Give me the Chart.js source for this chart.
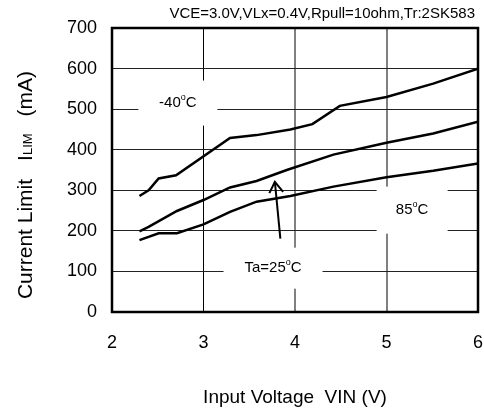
<!DOCTYPE html>
<html>
<head>
<meta charset="utf-8">
<script src="https://cdn.jsdelivr.net/npm/chart.js@4/dist/chart.umd.min.js"></script>
<style>
  html, body { margin: 0; padding: 0; background: #fff; }
  #wrap { width: 484px; height: 409px; }
</style>
</head>
<body>
<div id="wrap"><canvas id="chart" width="484" height="409"></canvas></div>
<script>
// current limit vs input voltage, three temperatures
var vinM40  = [2.30, 2.40, 2.51, 2.70, 3.29, 3.58, 3.95, 4.19, 4.49, 5.00, 5.51, 6.00];
var ilimM40 = [286, 300, 329, 337, 429, 436, 450, 463, 508, 530, 563, 600];
var vin25   = [2.30, 2.40, 2.71, 3.00, 3.29, 3.58, 3.91, 4.42, 5.00, 5.51, 6.00];
var ilim25  = [199, 210, 249, 276, 307, 323, 350, 388, 417, 440, 469];
var vin85   = [2.30, 2.51, 2.71, 3.00, 3.29, 3.58, 3.95, 4.42, 5.00, 5.51, 6.00];
var ilim85  = [177, 194, 194, 216, 247, 272, 286, 309, 332, 348, 366];

// pointer from the "Ta=25" note up to the middle curve
var arrowShaftV = [3.84, 3.78];
var arrowShaftI = [181, 321];
var arrowHeadV  = [3.72, 3.78, 3.87];
var arrowHeadI  = [293, 321, 296];

var xTicks = [2, 3, 4, 5, 6];
var yTicks = [0, 100, 200, 300, 400, 500, 600, 700];

var condText = 'VCE=3.0V,VLx=0.4V,Rpull=10ohm,Tr:2SK583';
var xTitle = 'Input Voltage  VIN (V)';

// temperature notes: text before the degree sign, anchor in data units
var noteText = ['-40', 'Ta=25', '85'];
var noteV    = [2.72, 3.76, 5.28];
var noteI    = [515, 108, 251];
var noteBox  = [[79, 45], [99, 41], [71, 47]];

var FONT = '"Liberation Sans", Arial, Helvetica, sans-serif';

function pts(xs, ys) {
  return xs.map(function (x, i) { return { x: x, y: ys[i] }; });
}

function drawDeg(ctx, pre, cx, cy) {
  var big = '15px ' + FONT, small = '9px ' + FONT;
  ctx.font = big;
  var w1 = ctx.measureText(pre).width;
  var w3 = ctx.measureText('C').width;
  ctx.font = small;
  var w2 = ctx.measureText('o').width;
  var x = cx - (w1 + w2 + w3) / 2;
  ctx.textBaseline = 'middle';
  ctx.textAlign = 'left';
  ctx.fillStyle = '#000';
  ctx.font = big;
  ctx.fillText(pre, x, cy);
  ctx.font = small;
  ctx.fillText('o', x + w1, cy - 6);
  ctx.font = big;
  ctx.fillText('C', x + w1 + w2, cy);
}

var decor = {
  id: 'decor',
  beforeDatasetsDraw: function (chart) {
    var ctx = chart.ctx, xs = chart.scales.x, ys = chart.scales.y;
    ctx.save();
    noteText.forEach(function (t, i) {
      var cx = xs.getPixelForValue(noteV[i]);
      var cy = ys.getPixelForValue(noteI[i]);
      var bw = noteBox[i][0], bh = noteBox[i][1];
      ctx.fillStyle = '#fff';
      ctx.fillRect(cx - bw / 2, cy - bh / 2, bw, bh);
      drawDeg(ctx, t, cx, cy);
    });
    ctx.restore();
  },
  afterDatasetsDraw: function (chart) {
    var ctx = chart.ctx, a = chart.chartArea;
    ctx.save();
    ctx.strokeStyle = '#000';
    ctx.lineWidth = 2.5;
    ctx.strokeRect(a.left, a.top, a.right - a.left, a.bottom - a.top);
    ctx.restore();
  },
  afterDraw: function (chart) {
    var ctx = chart.ctx;
    ctx.save();
    ctx.fillStyle = '#000';
    ctx.textBaseline = 'middle';

    // test conditions, top right
    ctx.font = '15px ' + FONT;
    ctx.textAlign = 'right';
    ctx.fillText(condText, 475, 14);

    // x title
    ctx.font = '19px ' + FONT;
    ctx.textAlign = 'center';
    ctx.fillText(xTitle, 295, 398);

    // y title, rotated, with small-caps LIM
    var big = '21px ' + FONT, small = '13px ' + FONT;
    var parts = [
      { t: 'Current Limit', f: big },
      { gap: 18 },
      { t: 'I', f: big },
      { t: 'LIM', f: small },
      { gap: 17 },
      { t: '(mA)', f: big }
    ];
    var total = 0;
    parts.forEach(function (p) {
      if (p.gap) { p.w = p.gap; } else { ctx.font = p.f; p.w = ctx.measureText(p.t).width; }
      total += p.w;
    });
    ctx.translate(24, 185);
    ctx.rotate(-Math.PI / 2);
    ctx.textAlign = 'left';
    ctx.textBaseline = 'alphabetic';
    var px = -total / 2;
    parts.forEach(function (p) {
      if (!p.gap) { ctx.font = p.f; ctx.fillText(p.t, px, 8); }
      px += p.w;
    });
    ctx.restore();
  }
};

var lineStyle = { borderColor: '#000', borderWidth: 2.5, pointRadius: 0, showLine: true, fill: false, tension: 0 };

new Chart(document.getElementById('chart'), {
  type: 'scatter',
  data: {
    datasets: [
      Object.assign({ label: '-40', data: pts(vinM40, ilimM40) }, lineStyle),
      Object.assign({ label: '25', data: pts(vin25, ilim25) }, lineStyle),
      Object.assign({ label: '85', data: pts(vin85, ilim85) }, lineStyle),
      { label: 'shaft', data: pts(arrowShaftV, arrowShaftI), borderColor: '#000', borderWidth: 2, pointRadius: 0, showLine: true },
      { label: 'head', data: pts(arrowHeadV, arrowHeadI), borderColor: '#000', borderWidth: 2, pointRadius: 0, showLine: true }
    ]
  },
  options: {
    responsive: false,
    devicePixelRatio: 1,
    animation: false,
    layout: { padding: { top: 28, right: 6, bottom: 0, left: 0 } },
    plugins: { legend: { display: false }, tooltip: { enabled: false } },
    scales: {
      x: {
        type: 'linear',
        min: 2, max: 6,
        afterFit: function (s) { s.height = 97; s.paddingLeft = 0; s.paddingRight = 0; },
        afterBuildTicks: function (s) { s.ticks = xTicks.map(function (v) { return { value: v }; }); },
        border: { display: false },
        grid: {
          drawTicks: false,
          color: function (c) { return c.tick && c.tick.value === 3 ? '#000' : '#808080'; },
          lineWidth: function (c) { return c.tick && c.tick.value === 3 ? 1 : 2; }
        },
        ticks: { padding: 20, color: '#000', font: { family: FONT, size: 18 } }
      },
      y: {
        type: 'linear',
        min: 0, max: 700,
        afterFit: function (s) { s.width = 112; s.paddingTop = 0; s.paddingBottom = 0; },
        afterBuildTicks: function (s) { s.ticks = yTicks.map(function (v) { return { value: v }; }); },
        border: { display: false },
        grid: { drawTicks: false, color: '#222', lineWidth: 1 },
        ticks: { padding: 15, color: '#000', font: { family: FONT, size: 18 } }
      }
    }
  },
  plugins: [decor]
});
</script>
</body>
</html>
